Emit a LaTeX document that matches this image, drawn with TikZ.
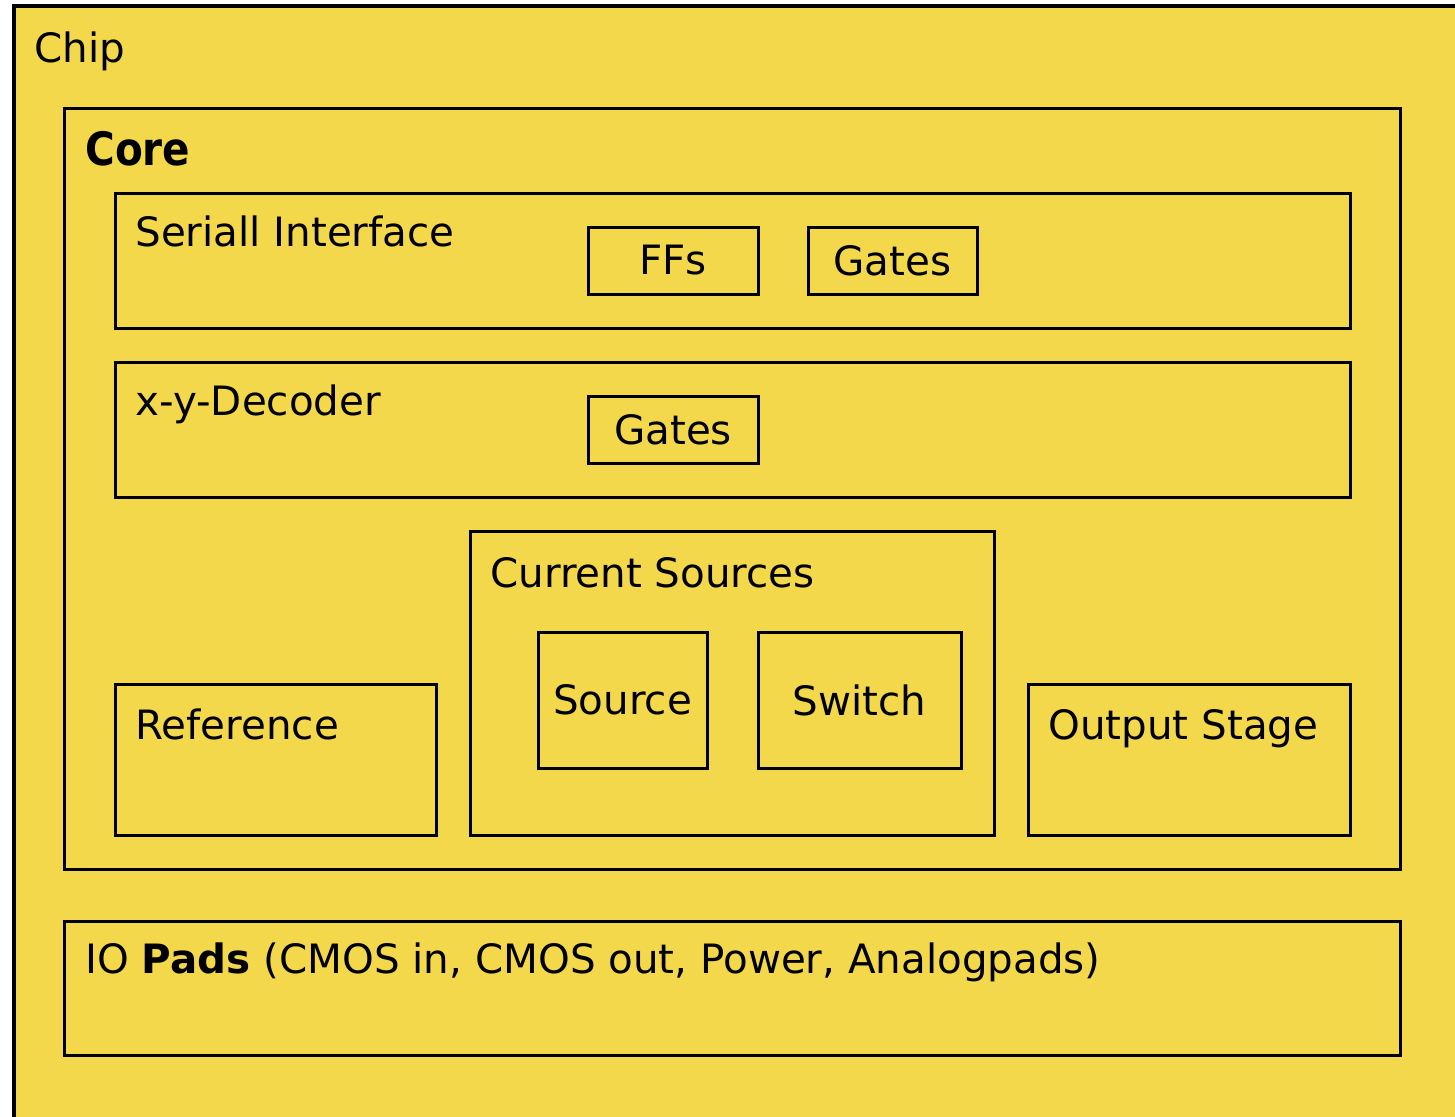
\documentclass[tikz,border=0pt]{standalone}
\usepackage{fontspec}
\setmainfont{DejaVu Sans}
\newfontfamily\corefont[FakeStretch=0.88]{DejaVu Sans Bold}
\usetikzlibrary{fit}
\definecolor{chipyellow}{RGB}{244,216,76}
\begin{document}
\begin{tikzpicture}[x=0.5pt,y=-0.5pt,
  block/.style={draw=black, line width=1.5pt, fill=chipyellow, inner sep=0pt, outer sep=0pt},
  lbl/.style={font=\fontsize{20.2pt}{24pt}\selectfont, inner sep=0pt, anchor=base west},
  ctr/.style={font=\fontsize{20.2pt}{24pt}\selectfont, inner sep=0pt}]
  \useasboundingbox (0,0) rectangle (1455,1116);
  \clip (0,0) rectangle (1455,1116);

  % chip outline, running off the page on the right and bottom
  \node[block, line width=1.7pt, fit={(14,6) (1490,1150)}] (chip) {};
  \node[lbl] (chipT) at (34,62) {Chip};

  % core and its blocks
  \node[block, fit={(64,108) (1400,869)}] (core) {};
  \node[lbl, font=\fontsize{23pt}{27pt}\corefont] (coreT) at (85,165) {Core};

  \node[block, fit={(115,193) (1350,328)}] (serial) {};
  \node[lbl] (serialT) at (135,246) {Seriall Interface};
  \node[block, fit={(588,227) (758,294)}] (ffs) {};
  \node[ctr] (ffsT) at (ffs.center) {FFs};
  \node[block, fit={(808,227) (977,294)}] (gatesA) {};
  \node[ctr] (gatesAT) at (gatesA.center) {Gates};

  \node[block, fit={(115,362) (1350,497)}] (decoder) {};
  \node[lbl] (decoderT) at (135,415) {x-y-Decoder};
  \node[block, fit={(588,396) (758,463)}] (gatesB) {};
  \node[ctr] (gatesBT) at (gatesB.center) {Gates};

  \node[block, fit={(470,531) (994,835)}] (current) {};
  \node[lbl] (currentT) at (490,587) {Current Sources};
  \node[block, fit={(538,632) (707,768)}] (source) {};
  \node[ctr] (sourceT) at (source.center) {Source};
  \node[block, fit={(758,632) (961,768)}] (switch) {};
  \node[ctr] (switchT) at (switch.center) {Switch};

  \node[block, fit={(115,684) (436,835)}] (reference) {};
  \node[lbl] (referenceT) at (135,739) {Reference};
  \node[block, fit={(1028,684) (1350,835)}] (output) {};
  \node[lbl] (outputT) at (1048,739) {Output Stage};

  % pad ring
  \node[block, fit={(64,921) (1400,1055)}] (pads) {};
  \node[lbl] (padsT) at (85,973) {IO \textbf{Pads} (CMOS in, CMOS out, Power, Analogpads)};
\end{tikzpicture}
\end{document}
